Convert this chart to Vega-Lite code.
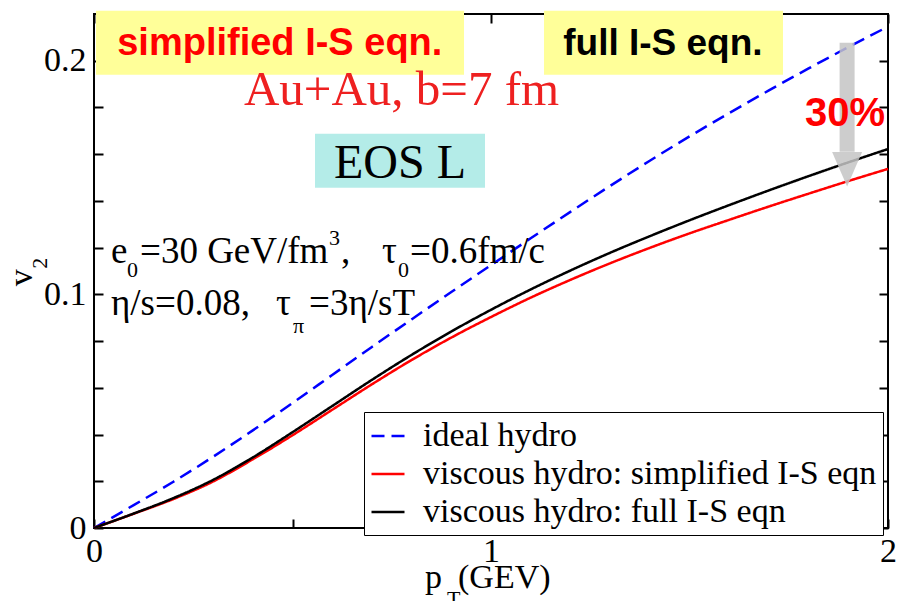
{
  "$schema": "https://vega.github.io/schema/vega-lite/v6.json",
  "width": 794,
  "height": 514,
  "autosize": {"type": "none"},
  "padding": {"left": 94, "top": 14, "right": 9, "bottom": 73},
  "background": "white",
  "config": {
    "view": {"stroke": "black", "strokeWidth": 2},
    "text": {"font": "Liberation Serif", "color": "black", "baseline": "alphabetic", "align": "left"}
  },
  "resolve": {"axis": {"x": "independent", "y": "independent"}},
  "layer": [
    {
      "data": {"values": [{}]},
      "mark": {"type": "rect", "color": "#ffff99"},
      "encoding": {
        "x": {"datum": 0.005, "type": "quantitative", "axis": null},
        "x2": {"datum": 0.932},
        "y": {"datum": 0.2214, "type": "quantitative", "axis": null},
        "y2": {"datum": 0.194}
      }
    },
    {
      "data": {"values": [{}]},
      "mark": {"type": "rect", "color": "#ffff99"},
      "encoding": {
        "x": {"datum": 1.1335, "type": "quantitative", "axis": null},
        "x2": {"datum": 1.7355},
        "y": {"datum": 0.2214, "type": "quantitative", "axis": null},
        "y2": {"datum": 0.194}
      }
    },
    {
      "data": {"values": [{}]},
      "mark": {"type": "rect", "color": "#b4ece8"},
      "encoding": {
        "x": {"datum": 0.5567, "type": "quantitative", "axis": null},
        "x2": {"datum": 0.9849},
        "y": {"datum": 0.1687, "type": "quantitative", "axis": null},
        "y2": {"datum": 0.1456}
      }
    },
    {
      "data": {
        "values": [
          {"pt": 0.0, "v2": 0.0, "curve": "ideal hydro"},
          {"pt": 0.1, "v2": 0.0098, "curve": "ideal hydro"},
          {"pt": 0.2, "v2": 0.0198, "curve": "ideal hydro"},
          {"pt": 0.3, "v2": 0.0305, "curve": "ideal hydro"},
          {"pt": 0.4, "v2": 0.0418, "curve": "ideal hydro"},
          {"pt": 0.5, "v2": 0.0535, "curve": "ideal hydro"},
          {"pt": 0.6, "v2": 0.0655, "curve": "ideal hydro"},
          {"pt": 0.7, "v2": 0.0775, "curve": "ideal hydro"},
          {"pt": 0.8, "v2": 0.0893, "curve": "ideal hydro"},
          {"pt": 0.9, "v2": 0.101, "curve": "ideal hydro"},
          {"pt": 1.0, "v2": 0.1125, "curve": "ideal hydro"},
          {"pt": 1.1, "v2": 0.124, "curve": "ideal hydro"},
          {"pt": 1.2, "v2": 0.1353, "curve": "ideal hydro"},
          {"pt": 1.3, "v2": 0.1464, "curve": "ideal hydro"},
          {"pt": 1.4, "v2": 0.1572, "curve": "ideal hydro"},
          {"pt": 1.5, "v2": 0.1676, "curve": "ideal hydro"},
          {"pt": 1.6, "v2": 0.1776, "curve": "ideal hydro"},
          {"pt": 1.7, "v2": 0.1873, "curve": "ideal hydro"},
          {"pt": 1.8, "v2": 0.1967, "curve": "ideal hydro"},
          {"pt": 1.9, "v2": 0.2058, "curve": "ideal hydro"},
          {"pt": 2.0, "v2": 0.2146, "curve": "ideal hydro"},
          {"pt": 0.0, "v2": 0.0, "curve": "viscous hydro: simplified I-S eqn"},
          {"pt": 0.1, "v2": 0.0061, "curve": "viscous hydro: simplified I-S eqn"},
          {"pt": 0.2, "v2": 0.0124, "curve": "viscous hydro: simplified I-S eqn"},
          {"pt": 0.3, "v2": 0.0199, "curve": "viscous hydro: simplified I-S eqn"},
          {"pt": 0.4, "v2": 0.0294, "curve": "viscous hydro: simplified I-S eqn"},
          {"pt": 0.5, "v2": 0.0397, "curve": "viscous hydro: simplified I-S eqn"},
          {"pt": 0.6, "v2": 0.0506, "curve": "viscous hydro: simplified I-S eqn"},
          {"pt": 0.7, "v2": 0.0615, "curve": "viscous hydro: simplified I-S eqn"},
          {"pt": 0.8, "v2": 0.0719, "curve": "viscous hydro: simplified I-S eqn"},
          {"pt": 0.9, "v2": 0.0815, "curve": "viscous hydro: simplified I-S eqn"},
          {"pt": 1.0, "v2": 0.0903, "curve": "viscous hydro: simplified I-S eqn"},
          {"pt": 1.1, "v2": 0.0986, "curve": "viscous hydro: simplified I-S eqn"},
          {"pt": 1.2, "v2": 0.1062, "curve": "viscous hydro: simplified I-S eqn"},
          {"pt": 1.3, "v2": 0.1133, "curve": "viscous hydro: simplified I-S eqn"},
          {"pt": 1.4, "v2": 0.1199, "curve": "viscous hydro: simplified I-S eqn"},
          {"pt": 1.5, "v2": 0.1261, "curve": "viscous hydro: simplified I-S eqn"},
          {"pt": 1.6, "v2": 0.1319, "curve": "viscous hydro: simplified I-S eqn"},
          {"pt": 1.7, "v2": 0.1376, "curve": "viscous hydro: simplified I-S eqn"},
          {"pt": 1.8, "v2": 0.1431, "curve": "viscous hydro: simplified I-S eqn"},
          {"pt": 1.9, "v2": 0.1485, "curve": "viscous hydro: simplified I-S eqn"},
          {"pt": 2.0, "v2": 0.1537, "curve": "viscous hydro: simplified I-S eqn"},
          {"pt": 0.0, "v2": 0.0, "curve": "viscous hydro: full I-S eqn"},
          {"pt": 0.1, "v2": 0.0062, "curve": "viscous hydro: full I-S eqn"},
          {"pt": 0.2, "v2": 0.0128, "curve": "viscous hydro: full I-S eqn"},
          {"pt": 0.3, "v2": 0.0206, "curve": "viscous hydro: full I-S eqn"},
          {"pt": 0.4, "v2": 0.0302, "curve": "viscous hydro: full I-S eqn"},
          {"pt": 0.5, "v2": 0.041, "curve": "viscous hydro: full I-S eqn"},
          {"pt": 0.6, "v2": 0.0522, "curve": "viscous hydro: full I-S eqn"},
          {"pt": 0.7, "v2": 0.0634, "curve": "viscous hydro: full I-S eqn"},
          {"pt": 0.8, "v2": 0.0741, "curve": "viscous hydro: full I-S eqn"},
          {"pt": 0.9, "v2": 0.0841, "curve": "viscous hydro: full I-S eqn"},
          {"pt": 1.0, "v2": 0.0934, "curve": "viscous hydro: full I-S eqn"},
          {"pt": 1.1, "v2": 0.1021, "curve": "viscous hydro: full I-S eqn"},
          {"pt": 1.2, "v2": 0.1102, "curve": "viscous hydro: full I-S eqn"},
          {"pt": 1.3, "v2": 0.1178, "curve": "viscous hydro: full I-S eqn"},
          {"pt": 1.4, "v2": 0.1249, "curve": "viscous hydro: full I-S eqn"},
          {"pt": 1.5, "v2": 0.1317, "curve": "viscous hydro: full I-S eqn"},
          {"pt": 1.6, "v2": 0.1382, "curve": "viscous hydro: full I-S eqn"},
          {"pt": 1.7, "v2": 0.1445, "curve": "viscous hydro: full I-S eqn"},
          {"pt": 1.8, "v2": 0.1506, "curve": "viscous hydro: full I-S eqn"},
          {"pt": 1.9, "v2": 0.1565, "curve": "viscous hydro: full I-S eqn"},
          {"pt": 2.0, "v2": 0.1622, "curve": "viscous hydro: full I-S eqn"}
        ]
      },
      "mark": {"type": "line", "strokeWidth": 2.5, "interpolate": "monotone"},
      "encoding": {
        "x": {
          "field": "pt", "type": "quantitative",
          "scale": {"domain": [0, 2], "nice": false, "zero": false},
          "axis": {
            "orient": "bottom", "title": null, "domain": false, "grid": false,
            "values": [0, 0.5, 1, 1.5, 2],
            "labelExpr": "datum.value == 0 ? '0' : datum.value == 1 ? '1' : datum.value == 2 ? '2' : ''",
            "tickSize": -9, "tickWidth": 2, "tickColor": "black",
            "labelFont": "Liberation Serif", "labelFontSize": 34, "labelColor": "black",
            "labelPadding": 15, "labelFlush": false, "labelOverlap": false, "labelBaseline": "top"
          }
        },
        "y": {
          "field": "v2", "type": "quantitative",
          "scale": {"domain": [0, 0.22], "nice": false, "zero": false},
          "axis": {
            "orient": "left", "title": null, "domain": false, "grid": false,
            "values": [0, 0.02, 0.04, 0.06, 0.08, 0.1, 0.12, 0.14, 0.16, 0.18, 0.2],
            "labelExpr": "datum.value == 0 ? '0' : datum.value == 0.1 ? '0.1' : datum.value == 0.2 ? '0.2' : ''",
            "tickSize": -9, "tickWidth": 2, "tickColor": "black",
            "labelFont": "Liberation Serif", "labelFontSize": 34, "labelColor": "black",
            "labelPadding": 17, "labelFlush": false, "labelOverlap": false
          }
        },
        "color": {
          "field": "curve", "type": "nominal",
          "scale": {
            "domain": ["ideal hydro", "viscous hydro: simplified I-S eqn", "viscous hydro: full I-S eqn"],
            "range": ["#0000ff", "#ff0000", "#000000"]
          },
          "legend": {
            "title": null, "orient": "none", "legendX": 270, "legendY": 398,
            "direction": "vertical", "symbolType": "stroke", "symbolSize": 1089,
            "symbolStrokeWidth": 2.5, "labelFont": "Liberation Serif", "labelFontSize": 34,
            "labelColor": "black", "labelLimit": 800, "labelOffset": 17, "rowPadding": 3,
            "padding": 6, "strokeColor": "black", "fillColor": "white"
          }
        },
        "strokeDash": {
          "field": "curve", "type": "nominal",
          "scale": {
            "domain": ["ideal hydro", "viscous hydro: simplified I-S eqn", "viscous hydro: full I-S eqn"],
            "range": [[13, 7], [1, 0], [1, 0]]
          },
          "legend": {
            "title": null, "orient": "none", "legendX": 270, "legendY": 398,
            "direction": "vertical", "symbolType": "stroke", "symbolSize": 1089,
            "symbolStrokeWidth": 2.5, "labelFont": "Liberation Serif", "labelFontSize": 34,
            "labelColor": "black", "labelLimit": 800, "labelOffset": 17, "rowPadding": 3,
            "padding": 6, "strokeColor": "black", "fillColor": "white"
          }
        }
      }
    },
    {
      "data": {"values": [{}]},
      "mark": {"type": "point", "opacity": 0},
      "encoding": {
        "x": {
          "datum": 0, "type": "quantitative",
          "axis": {
            "orient": "top", "title": null, "domain": false, "grid": false, "labels": false,
            "values": [0, 0.5, 1, 1.5, 2], "tickSize": -9, "tickWidth": 2, "tickColor": "black"
          }
        },
        "y": {
          "datum": 0, "type": "quantitative",
          "axis": {
            "orient": "right", "title": null, "domain": false, "grid": false, "labels": false,
            "values": [0, 0.02, 0.04, 0.06, 0.08, 0.1, 0.12, 0.14, 0.16, 0.18, 0.2],
            "tickSize": -9, "tickWidth": 2, "tickColor": "black"
          }
        }
      }
    },
    {
      "data": {"values": [{}]},
      "mark": {"type": "text", "text": "simplified I-S eqn.", "font": "Liberation Sans", "fontWeight": "bold", "fontSize": 38, "color": "#ff0000", "align": "center"},
      "encoding": {"x": {"datum": 0.468, "type": "quantitative", "axis": null}, "y": {"datum": 0.2026, "type": "quantitative", "axis": null}}
    },
    {
      "data": {"values": [{}]},
      "mark": {"type": "text", "text": "full I-S eqn.", "font": "Liberation Sans", "fontWeight": "bold", "fontSize": 37, "color": "#000000", "align": "center"},
      "encoding": {"x": {"datum": 1.433, "type": "quantitative", "axis": null}, "y": {"datum": 0.2026, "type": "quantitative", "axis": null}}
    },
    {
      "data": {"values": [{}]},
      "mark": {"type": "text", "text": "Au+Au, b=7 fm", "fontSize": 49, "color": "#ee2020", "align": "center"},
      "encoding": {"x": {"datum": 0.7746, "type": "quantitative", "axis": null}, "y": {"datum": 0.1812, "type": "quantitative", "axis": null}}
    },
    {
      "data": {"values": [{}]},
      "mark": {"type": "text", "text": "EOS L", "fontSize": 48, "align": "center"},
      "encoding": {"x": {"datum": 0.7708, "type": "quantitative", "axis": null}, "y": {"datum": 0.1499, "type": "quantitative", "axis": null}}
    },
    {
      "data": {"values": [{}]},
      "mark": {"type": "text", "text": "e", "fontSize": 37},
      "encoding": {"x": {"datum": 0.0428, "type": "quantitative", "axis": null}, "y": {"datum": 0.1135, "type": "quantitative", "axis": null}}
    },
    {
      "data": {"values": [{}]},
      "mark": {"type": "text", "text": "0", "fontSize": 22},
      "encoding": {"x": {"datum": 0.083, "type": "quantitative", "axis": null}, "y": {"datum": 0.1075, "type": "quantitative", "axis": null}}
    },
    {
      "data": {"values": [{}]},
      "mark": {"type": "text", "text": "=30 GeV/fm", "fontSize": 37},
      "encoding": {"x": {"datum": 0.1159, "type": "quantitative", "axis": null}, "y": {"datum": 0.1135, "type": "quantitative", "axis": null}}
    },
    {
      "data": {"values": [{}]},
      "mark": {"type": "text", "text": "3", "fontSize": 22},
      "encoding": {"x": {"datum": 0.5919, "type": "quantitative", "axis": null}, "y": {"datum": 0.1212, "type": "quantitative", "axis": null}}
    },
    {
      "data": {"values": [{}]},
      "mark": {"type": "text", "text": ",", "fontSize": 37},
      "encoding": {"x": {"datum": 0.6222, "type": "quantitative", "axis": null}, "y": {"datum": 0.1135, "type": "quantitative", "axis": null}}
    },
    {
      "data": {"values": [{}]},
      "mark": {"type": "text", "text": "τ", "fontSize": 37},
      "encoding": {"x": {"datum": 0.7254, "type": "quantitative", "axis": null}, "y": {"datum": 0.1135, "type": "quantitative", "axis": null}}
    },
    {
      "data": {"values": [{}]},
      "mark": {"type": "text", "text": "0", "fontSize": 22},
      "encoding": {"x": {"datum": 0.7657, "type": "quantitative", "axis": null}, "y": {"datum": 0.1075, "type": "quantitative", "axis": null}}
    },
    {
      "data": {"values": [{}]},
      "mark": {"type": "text", "text": "=0.6fm/c", "fontSize": 37},
      "encoding": {"x": {"datum": 0.7960, "type": "quantitative", "axis": null}, "y": {"datum": 0.1135, "type": "quantitative", "axis": null}}
    },
    {
      "data": {"values": [{}]},
      "mark": {"type": "text", "text": "η/s=0.08,", "fontSize": 37},
      "encoding": {"x": {"datum": 0.0428, "type": "quantitative", "axis": null}, "y": {"datum": 0.0912, "type": "quantitative", "axis": null}}
    },
    {
      "data": {"values": [{}]},
      "mark": {"type": "text", "text": "τ", "fontSize": 37},
      "encoding": {"x": {"datum": 0.4584, "type": "quantitative", "axis": null}, "y": {"datum": 0.0912, "type": "quantitative", "axis": null}}
    },
    {
      "data": {"values": [{}]},
      "mark": {"type": "text", "text": "π", "fontSize": 22},
      "encoding": {"x": {"datum": 0.5013, "type": "quantitative", "axis": null}, "y": {"datum": 0.0835, "type": "quantitative", "axis": null}}
    },
    {
      "data": {"values": [{}]},
      "mark": {"type": "text", "text": "=3η/sT", "fontSize": 37},
      "encoding": {"x": {"datum": 0.5416, "type": "quantitative", "axis": null}, "y": {"datum": 0.0912, "type": "quantitative", "axis": null}}
    },
    {
      "data": {"values": [{}]},
      "mark": {"type": "text", "text": "p", "fontSize": 34},
      "encoding": {"x": {"datum": 0.8338, "type": "quantitative", "axis": null}, "y": {"datum": -0.0257, "type": "quantitative", "axis": null}}
    },
    {
      "data": {"values": [{}]},
      "mark": {"type": "text", "text": "T", "fontSize": 22},
      "encoding": {"x": {"datum": 0.8892, "type": "quantitative", "axis": null}, "y": {"datum": -0.0334, "type": "quantitative", "axis": null}}
    },
    {
      "data": {"values": [{}]},
      "mark": {"type": "text", "text": "(GEV)", "fontSize": 34},
      "encoding": {"x": {"datum": 0.9169, "type": "quantitative", "axis": null}, "y": {"datum": -0.0257, "type": "quantitative", "axis": null}}
    },
    {
      "data": {"values": [{}]},
      "mark": {"type": "text", "text": "v", "fontSize": 34, "angle": 270, "align": "center"},
      "encoding": {"x": {"datum": -0.156, "type": "quantitative", "axis": null}, "y": {"datum": 0.1071, "type": "quantitative", "axis": null}}
    },
    {
      "data": {"values": [{}]},
      "mark": {"type": "text", "text": "2", "fontSize": 22, "angle": 270, "align": "center"},
      "encoding": {"x": {"datum": -0.118, "type": "quantitative", "axis": null}, "y": {"datum": 0.1133, "type": "quantitative", "axis": null}}
    },
    {
      "data": {"values": [{}]},
      "mark": {"type": "rule", "color": "#c4c4c4", "strokeWidth": 15, "opacity": 0.85, "strokeCap": "butt"},
      "encoding": {
        "x": {"datum": 1.897, "type": "quantitative", "axis": null},
        "y": {"datum": 0.2077, "type": "quantitative", "axis": null},
        "y2": {"datum": 0.161}
      }
    },
    {
      "data": {"values": [{}]},
      "mark": {"type": "point", "shape": "M-1,-1.15L1,-1.15L0,1.15Z", "size": 900, "filled": true, "color": "#c4c4c4", "opacity": 0.85, "strokeWidth": 0},
      "encoding": {"x": {"datum": 1.897, "type": "quantitative", "axis": null}, "y": {"datum": 0.1535, "type": "quantitative", "axis": null}}
    },
    {
      "data": {"values": [{}]},
      "mark": {"type": "text", "text": "30%", "font": "Liberation Sans", "fontWeight": "bold", "fontSize": 40, "color": "#ff0000", "align": "center"},
      "encoding": {"x": {"datum": 1.8917, "type": "quantitative", "axis": null}, "y": {"datum": 0.1722, "type": "quantitative", "axis": null}}
    }
  ]
}
